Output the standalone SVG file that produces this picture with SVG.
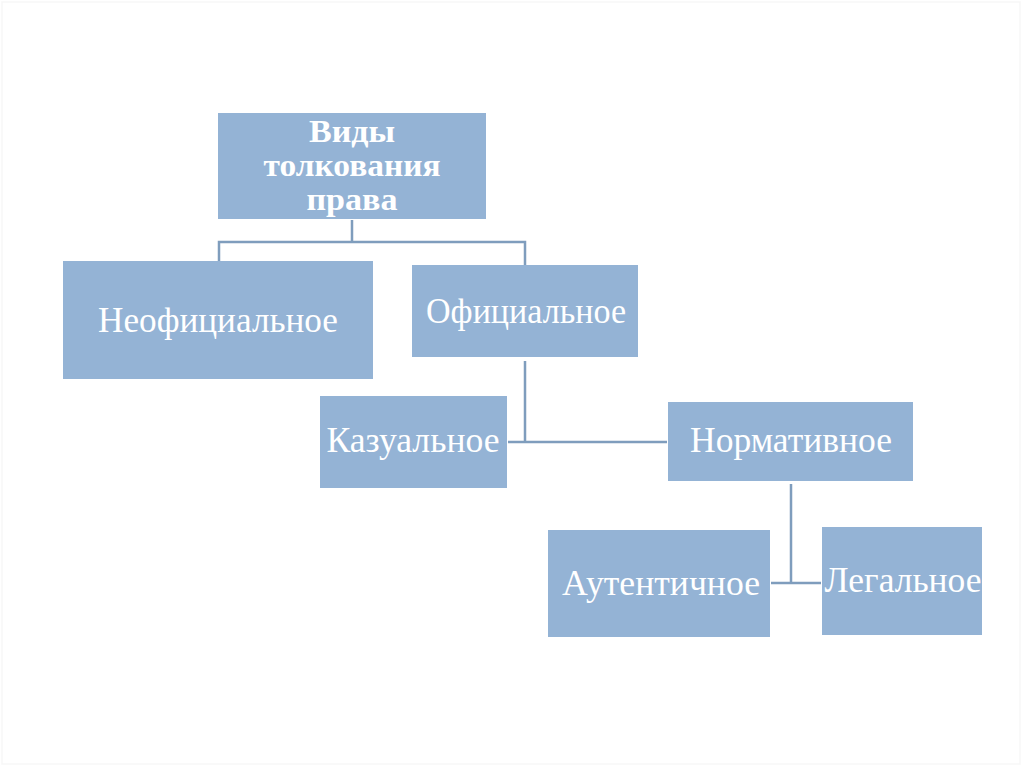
<svg xmlns="http://www.w3.org/2000/svg" width="1024" height="767" viewBox="0 0 1024 767">
<style>
.box{fill:#94b3d5;}
.t{fill:#ffffff;font-family:"Liberation Serif","DejaVu Serif",serif;font-size:36px;text-anchor:middle;}
.b{font-weight:bold;font-size:32px;}
.c{fill:none;stroke:#7f9dbd;stroke-width:2.5;}
</style>
<rect width="1024" height="767" fill="#ffffff"/>
<rect x="2" y="2" width="1018" height="762" fill="none" stroke="#f7f7f7" stroke-width="1.5"/>
<g id="connectors">
<path class="c" d="M352,220 V242 M219,261 V242 H525 V265"/>
<path class="c" d="M525,361 V442 M508,442 H667"/>
<path class="c" d="M791,484 V583 M771,583 H821"/>
</g>
<g id="root">
<rect class="box" x="218" y="113" width="268" height="106"/>
<text class="t b" x="352" y="142" textLength="86" lengthAdjust="spacingAndGlyphs">Виды</text>
<text class="t b" x="352" y="176" textLength="177" lengthAdjust="spacingAndGlyphs">толкования</text>
<text class="t b" x="352" y="210" textLength="91" lengthAdjust="spacingAndGlyphs">права</text>
</g>
<g id="neofitsialnoe">
<rect class="box" x="63" y="261" width="310" height="118"/>
<text class="t" x="218" y="332" textLength="240" lengthAdjust="spacingAndGlyphs">Неофициальное</text>
</g>
<g id="ofitsialnoe">
<rect class="box" x="412" y="265" width="226" height="92"/>
<text class="t" x="526" y="323" textLength="200" lengthAdjust="spacingAndGlyphs">Официальное</text>
</g>
<g id="kazualnoe">
<rect class="box" x="320" y="396" width="187" height="92"/>
<text class="t" x="413" y="452" textLength="173" lengthAdjust="spacingAndGlyphs">Казуальное</text>
</g>
<g id="normativnoe">
<rect class="box" x="668" y="402" width="245" height="79"/>
<text class="t" x="791" y="452" textLength="202" lengthAdjust="spacingAndGlyphs">Нормативное</text>
</g>
<g id="autentichnoe">
<rect class="box" x="548" y="530" width="222" height="107"/>
<text class="t" x="661" y="595" textLength="198" lengthAdjust="spacingAndGlyphs">Аутентичное</text>
</g>
<g id="legalnoe">
<rect class="box" x="822" y="527" width="160" height="108"/>
<text class="t" x="903" y="592" textLength="157" lengthAdjust="spacingAndGlyphs">Легальное</text>
</g>
</svg>
